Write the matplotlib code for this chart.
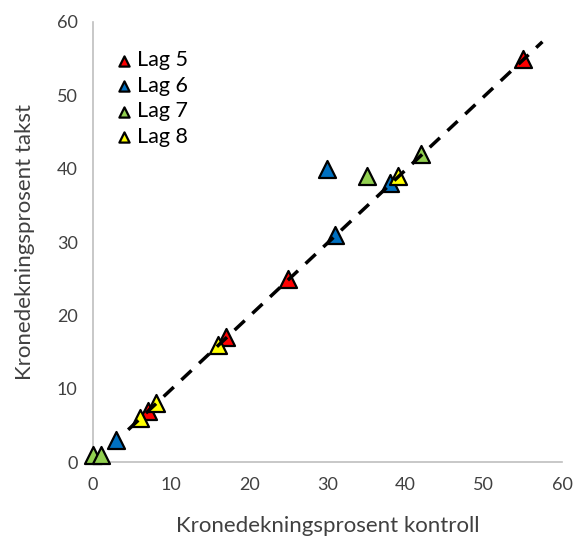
import matplotlib
matplotlib.use('Agg')
import matplotlib.pyplot as plt

plt.rcParams['font.family'] = ['Lato', 'DejaVu Sans']

# data
lag5_x = [55, 25, 17, 7]
lag5_y = [55, 25, 17, 7]
lag6_x = [30, 38, 31, 3]
lag6_y = [40, 38, 31, 3]
lag7_x = [35, 42, 0, 1]
lag7_y = [39, 42, 1, 1]
lag8_x = [39, 16, 8, 6]
lag8_y = [39, 16, 8, 6]
trend_x = [4.5, 57.5]
trend_y = [4.4, 57.3]

fig = plt.figure(figsize=(5.74, 5.36), dpi=100)
ax = fig.add_axes([0.162, 0.138, 0.817, 0.821])

series = [
    ('Lag 5', lag5_x, lag5_y, '#ff0000'),
    ('Lag 6', lag6_x, lag6_y, '#0070c0'),
    ('Lag 7', lag7_x, lag7_y, '#92d050'),
    ('Lag 8', lag8_x, lag8_y, '#ffff00'),
]
for name, xs, ys, c in series:
    ax.scatter(xs, ys, marker='^', s=150, c=c, edgecolors='black',
               linewidths=1.6, label=name, zorder=3, clip_on=False)

ax.plot(trend_x, trend_y, '--', color='black', lw=2.5, dashes=(4, 3), zorder=4)

ax.set_xlim(0, 60)
ax.set_ylim(0, 60)
ax.set_xticks(range(0, 61, 10))
ax.set_yticks(range(0, 61, 10))
ax.tick_params(length=0, labelsize=13, colors='#404040', pad=11)
for s in ['top', 'right']:
    ax.spines[s].set_visible(False)
for s in ['left', 'bottom']:
    ax.spines[s].set_color('#bfbfbf')
    ax.spines[s].set_linewidth(1.2)

ax.set_xlabel('Kronedekningsprosent kontroll', fontsize=16, color='#404040', labelpad=16)
ax.set_ylabel('Kronedekningsprosent takst', fontsize=16, color='#404040', labelpad=16)

ax.legend(loc='upper left', frameon=False, fontsize=15.5, markerscale=0.6,
          handletextpad=0.1, handlelength=1.0, labelspacing=0.25,
          borderaxespad=0.0, bbox_to_anchor=(0.025, 0.955))

fig.savefig('out.png', dpi=100)
